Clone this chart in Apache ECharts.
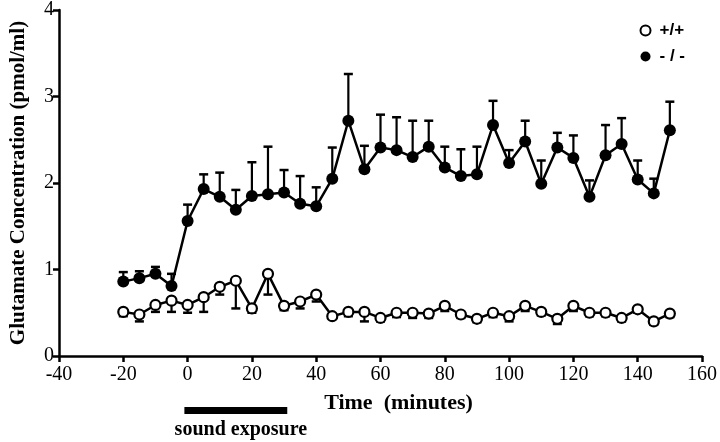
<!DOCTYPE html>
<html><head><meta charset="utf-8">
<script src="https://cdn.jsdelivr.net/npm/echarts@6/dist/echarts.min.js"></script>
<style>html,body{margin:0;padding:0;background:#fff}#c{width:720px;height:442px}</style>
</head><body><div id="c"></div>
<script>
var times = [-20,-15,-10,-5,0,5,10,15,20,25,30,35,40,45,50,55,60,65,70,75,80,85,90,95,100,105,110,115,120,125,130,135,140,145,150];
var wtMean = [0.51,0.48,0.59,0.64,0.59,0.68,0.80,0.87,0.55,0.95,0.58,0.63,0.71,0.46,0.51,0.51,0.44,0.50,0.50,0.49,0.58,0.48,0.43,0.50,0.46,0.58,0.51,0.43,0.58,0.50,0.50,0.44,0.54,0.40,0.49];
var wtSem = [0.05,0.08,0.08,0.13,0.09,0.17,0.09,0.32,0.05,0.24,0.05,0.08,0.08,0.03,0.05,0.11,0.04,0.05,0.06,0.05,0.06,0.04,0.04,0.05,0.06,0.06,0.04,0.06,0.06,0.04,0.04,0.04,0.04,0.04,0.04];
var koMean = [0.86,0.90,0.95,0.81,1.56,1.93,1.84,1.69,1.85,1.87,1.89,1.76,1.73,2.05,2.72,2.16,2.41,2.38,2.30,2.42,2.18,2.08,2.10,2.67,2.23,2.48,1.99,2.41,2.29,1.84,2.32,2.45,2.04,1.88,2.61];
var koSem = [0.11,0.08,0.08,0.14,0.19,0.17,0.28,0.23,0.39,0.55,0.26,0.32,0.22,0.36,0.54,0.27,0.38,0.38,0.42,0.30,0.24,0.31,0.32,0.28,0.15,0.24,0.27,0.17,0.26,0.19,0.35,0.30,0.22,0.17,0.33];
var xTicks = {min:-40, max:160, interval:20};
var yTicks = {min:0, max:4, interval:1};
var soundExposure = [[-1, 31]];
var seriesNames = ['+/+', '- / -'];

var serif = 'Liberation Serif';
var chart = echarts.init(document.getElementById('c'), null, {renderer:'canvas'});

function errData(mean, sem, dir){
  return times.map(function(t,i){ return [t, mean[i], mean[i] + dir*sem[i]]; });
}
function errRender(params, api){
  var x = api.value(0), y0 = api.value(1), y1 = api.value(2);
  var p0 = api.coord([x, y0]), p1 = api.coord([x, y1]);
  return {type:'group', children:[
    {type:'line', shape:{x1:p0[0], y1:p0[1], x2:p1[0], y2:p1[1]}, style:{stroke:'#000', lineWidth:2.2}},
    {type:'line', shape:{x1:p1[0]-4.5, y1:p1[1], x2:p1[0]+4.5, y2:p1[1]}, style:{stroke:'#000', lineWidth:2.5}}
  ]};
}

chart.setOption({
  animation:false,
  backgroundColor:'#fff',
  grid:{left:49, right:17, top:10, bottom:86, containLabel:false},
  legend:{
    data:[{name:seriesNames[0], icon:'circle'},{name:seriesNames[1], icon:'circle'}],
    orient:'vertical', right:30, top:17, itemWidth:10, itemHeight:10, itemGap:9,
    textStyle:{fontFamily:'Liberation Sans', fontWeight:'bold', fontSize:17, color:'#000', padding:[0,0,0,4]}
  },
  xAxis:{
    type:'value', min:xTicks.min, max:xTicks.max, interval:xTicks.interval,
    name:'Time  (minutes)', nameLocation:'middle', nameGap:36,
    nameTextStyle:{fontFamily:serif, fontWeight:'bold', fontSize:22, color:'#000', padding:[0,0,0,36]},
    axisLine:{onZero:false, lineStyle:{color:'#000', width:2.5}},
    axisTick:{length:6, lineStyle:{color:'#000', width:2.5}},
    axisLabel:{fontFamily:serif, fontSize:20, color:'#000', margin:9},
    splitLine:{show:false}
  },
  yAxis:{
    type:'value', min:yTicks.min, max:yTicks.max, interval:yTicks.interval,
    name:'Glutamate Concentration (pmol/ml)', nameLocation:'middle', nameGap:30,
    nameTextStyle:{fontFamily:serif, fontWeight:'bold', fontSize:21, color:'#000'},
    axisLine:{show:true, onZero:false, lineStyle:{color:'#000', width:2.5}},
    axisTick:{show:true, length:6, lineStyle:{color:'#000', width:2.5}},
    axisLabel:{fontFamily:serif, fontSize:20, color:'#000', margin:5},
    splitLine:{show:false}
  },
  series:[
    {type:'custom', renderItem:errRender, data:errData(wtMean, wtSem, -1), encode:{x:0,y:[1,2]}, z:1, silent:true},
    {type:'custom', renderItem:errRender, data:errData(koMean, koSem, 1), encode:{x:0,y:[1,2]}, z:1, silent:true},
    {name:seriesNames[0], type:'line', data:times.map(function(t,i){return [t, wtMean[i]];}),
     symbol:'circle', symbolSize:10, lineStyle:{color:'#000', width:2.5},
     itemStyle:{color:'#fff', borderColor:'#000', borderWidth:2.2}, z:3},
    {name:seriesNames[1], type:'line', data:times.map(function(t,i){return [t, koMean[i]];}),
     symbol:'circle', symbolSize:12, lineStyle:{color:'#000', width:2.5},
     itemStyle:{color:'#000', borderColor:'#000', borderWidth:0}, z:3},
    {type:'custom', clip:false, silent:true, data:soundExposure, encode:{x:[0,1]},
     renderItem:function(params, api){
       var a = api.coord([api.value(0), 0]), b = api.coord([api.value(1), 0]);
       return {type:'group', children:[
         {type:'rect', shape:{x:a[0], y:a[1]+51, width:b[0]-a[0], height:7}, style:{fill:'#000'}},
         {type:'text', style:{text:'sound exposure', x:(a[0]+b[0])/2+5, y:a[1]+74, align:'center', verticalAlign:'middle',
           font:'bold 20px "Liberation Serif"', fill:'#000'}}
       ]};
     }}
  ]
});
</script></body></html>
